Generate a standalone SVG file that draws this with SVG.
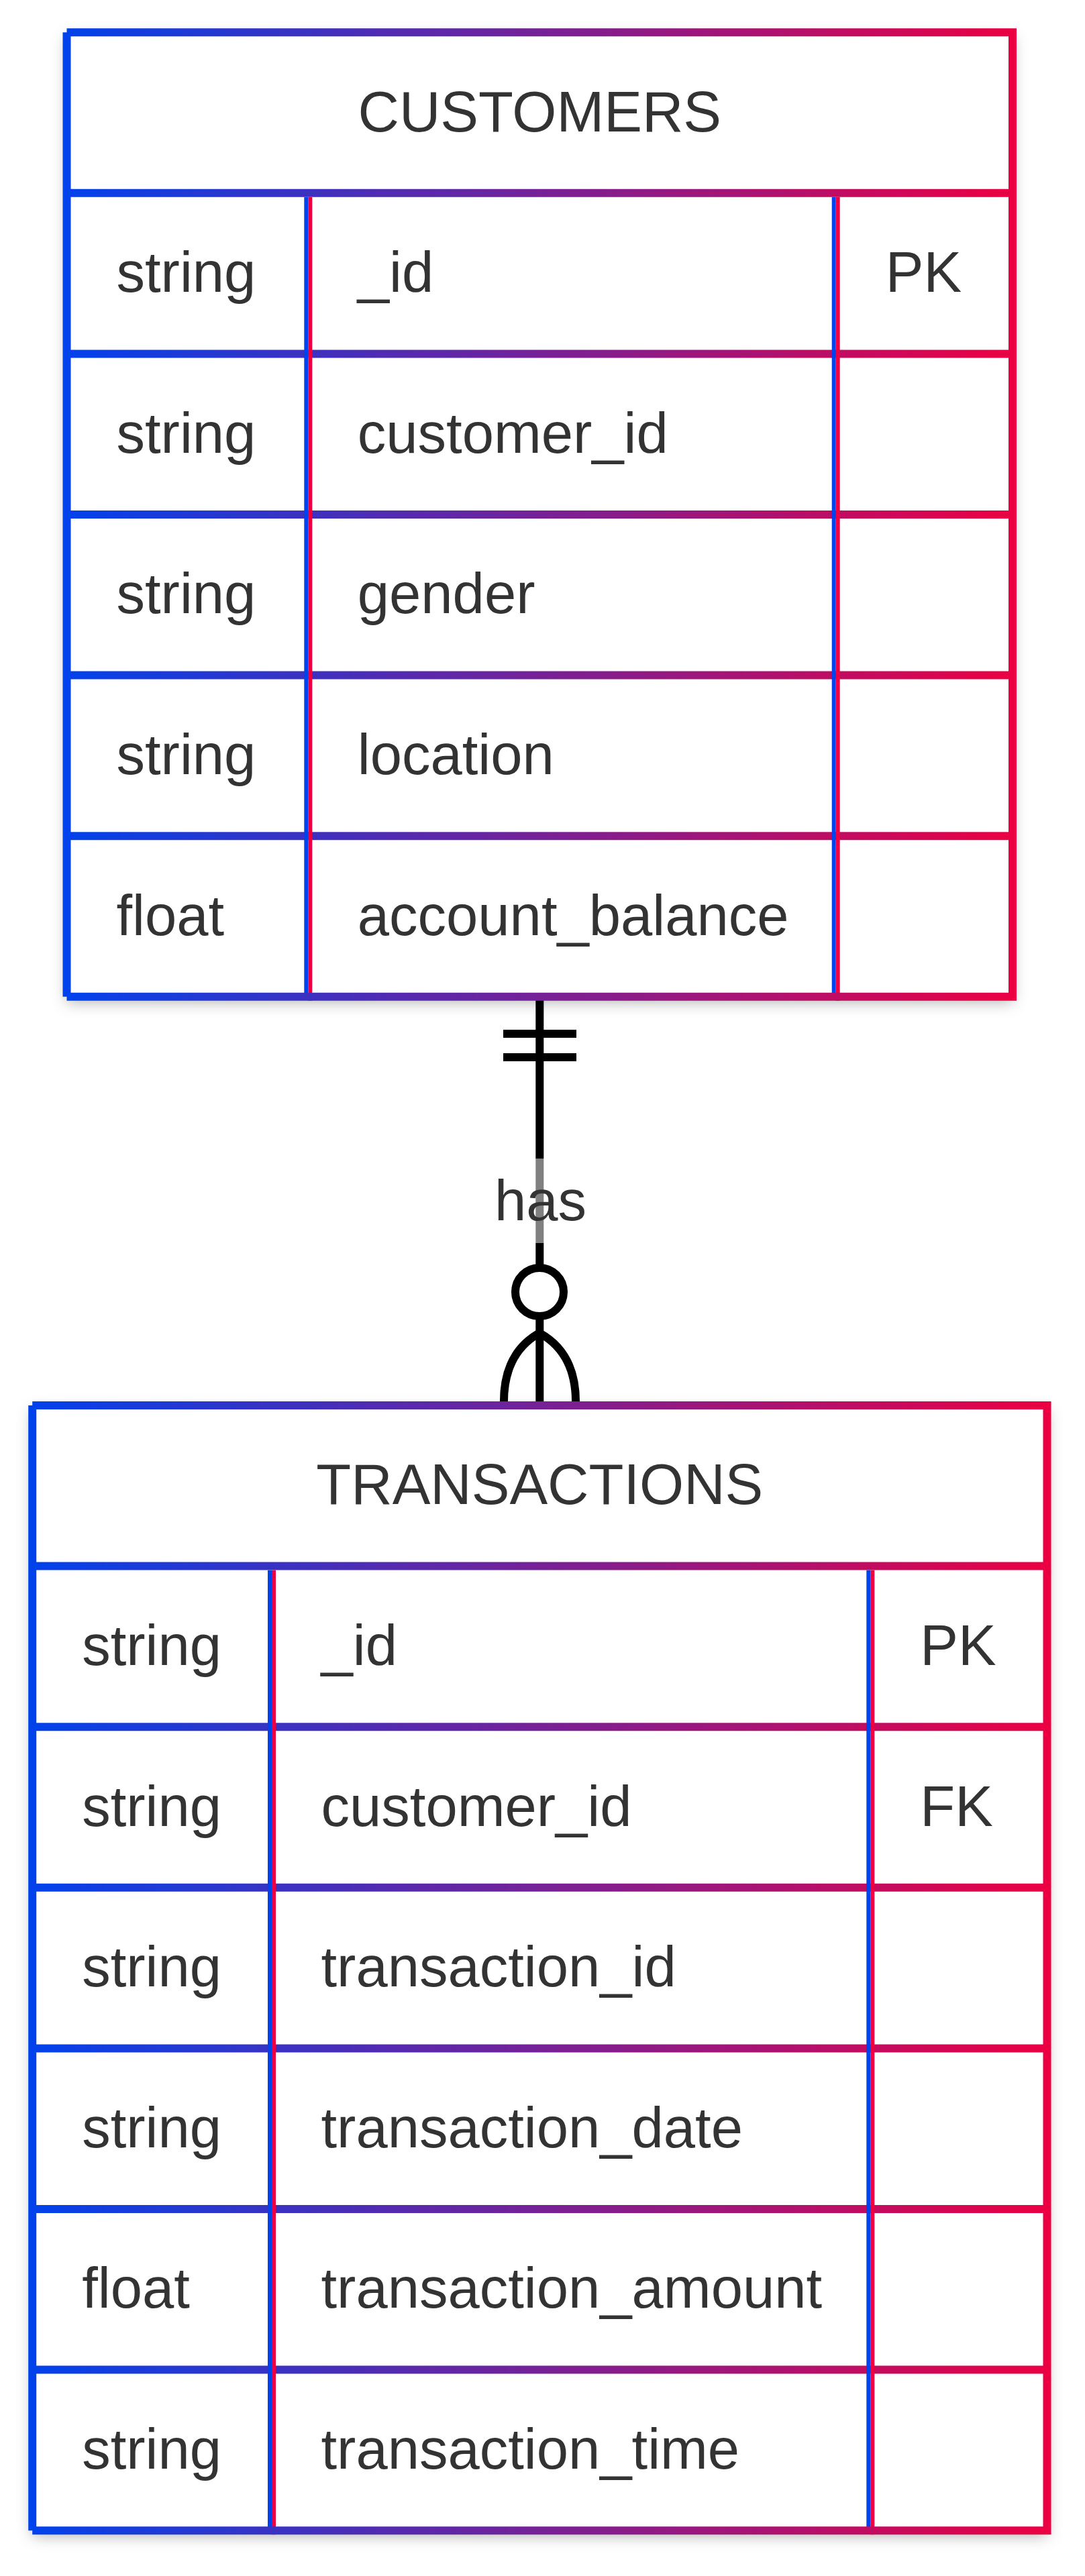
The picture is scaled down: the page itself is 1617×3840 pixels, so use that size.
<svg xmlns="http://www.w3.org/2000/svg" width="1617" height="3840" viewBox="0 0 1617 3840">
<defs>
<linearGradient id="gc" gradientUnits="userSpaceOnUse" x1="93.5" y1="0" x2="1515" y2="0">
<stop offset="0" stop-color="#0042ec"/><stop offset="1" stop-color="#ec0042"/>
</linearGradient>
<linearGradient id="gt" gradientUnits="userSpaceOnUse" x1="42.2" y1="0" x2="1566.5" y2="0">
<stop offset="0" stop-color="#0042ec"/><stop offset="1" stop-color="#ec0042"/>
</linearGradient>
<filter id="sh" x="-10%" y="-10%" width="120%" height="120%">
<feDropShadow dx="0" dy="8" stdDeviation="11" flood-color="#000" flood-opacity="0.3"/>
</filter>
</defs>
<style>
text{font-family:"Liberation Sans",Arial,Helvetica,sans-serif;font-size:85px;fill:#333}
.t{text-anchor:middle}
.bc{fill:none;stroke:url(#gc);stroke-width:12}
.bt{fill:none;stroke:url(#gt);stroke-width:12}
.bl{fill:#0042ec}
.rd{fill:#ec0042}
.bg{fill:#fff;filter:url(#sh)}
.cn{stroke:#000;stroke-width:12;fill:none}
</style>
<rect width="1617" height="3840" fill="#fff"/>
<g id="connectors">
<line class="cn" x1="804.3" y1="1486" x2="804.3" y2="2095"/>
<line class="cn" x1="750" y1="1541" x2="859" y2="1541"/>
<line class="cn" x1="750" y1="1576" x2="859" y2="1576"/>
<rect x="740" y="1727" width="130" height="126" fill="#fff" fill-opacity="0.5"/>
<text class="t" x="805.5" y="1819">has</text>
<circle class="cn" cx="804" cy="1926" r="36" style="fill:#fff"/>
<path class="cn" d="M804,1987 Q749,2018 751,2095"/>
<path class="cn" d="M804,1987 Q860,2018 858,2095"/>
</g>
<g id="CUSTOMERS">
<rect class="bg" x="99.5" y="48.2" width="1409.5" height="1437.6"/>
<path class="bc" d="M99.5,287.8H1509M99.5,527.4H1509M99.5,767H1509M99.5,1006.6H1509M99.5,1246.2H1509"/>
<rect class="bl" x="453.3" y="293.8" width="6" height="1192"/>
<rect class="rd" x="459.3" y="293.8" width="6" height="1198"/>
<rect class="bl" x="1239.7" y="293.8" width="6" height="1192"/>
<rect class="rd" x="1245.7" y="293.8" width="6" height="1198"/>
<path class="bc" d="M99.5,48.2H1509V1485.8H99.5"/>
<path class="bc" d="M99.5,48.2V1485.8"/>
<text class="t" x="804.3" y="195.5">CUSTOMERS</text>
<text x="173.5" y="435.1">string</text><text x="532.8" y="435.1">_id</text><text x="1319.7" y="435.1">PK</text>
<text x="173.5" y="674.7">string</text><text x="532.8" y="674.7">customer_id</text>
<text x="173.5" y="914.3">string</text><text x="532.8" y="914.3">gender</text>
<text x="173.5" y="1153.9">string</text><text x="532.8" y="1153.9">location</text>
<text x="173.5" y="1393.5">float</text><text x="532.8" y="1393.5">account_balance</text>
</g>
<g id="TRANSACTIONS">
<rect class="bg" x="48.2" y="2095" width="1512.3" height="1677.2"/>
<path class="bt" d="M48.2,2334.6H1560.5M48.2,2574.2H1560.5M48.2,2813.8H1560.5M48.2,3053.4H1560.5M48.2,3293H1560.5M48.2,3532.6H1560.5"/>
<rect class="bl" x="399" y="2340.6" width="6" height="1431.6"/>
<rect class="rd" x="405" y="2340.6" width="6" height="1437.6"/>
<rect class="bl" x="1291.3" y="2340.6" width="6" height="1431.6"/>
<rect class="rd" x="1297.3" y="2340.6" width="6" height="1437.6"/>
<path class="bt" d="M48.2,2095H1560.5V3772.2H48.2"/>
<path class="bt" d="M48.2,2095V3772.2"/>
<text class="t" x="804.3" y="2242.3">TRANSACTIONS</text>
<text x="122.2" y="2481.9">string</text><text x="478.5" y="2481.9">_id</text><text x="1371.3" y="2481.9">PK</text>
<text x="122.2" y="2721.5">string</text><text x="478.5" y="2721.5">customer_id</text><text x="1371.3" y="2721.5">FK</text>
<text x="122.2" y="2961.1">string</text><text x="478.5" y="2961.1">transaction_id</text>
<text x="122.2" y="3200.7">string</text><text x="478.5" y="3200.7">transaction_date</text>
<text x="122.2" y="3440.3">float</text><text x="478.5" y="3440.3">transaction_amount</text>
<text x="122.2" y="3679.9">string</text><text x="478.5" y="3679.9">transaction_time</text>
</g>
</svg>
